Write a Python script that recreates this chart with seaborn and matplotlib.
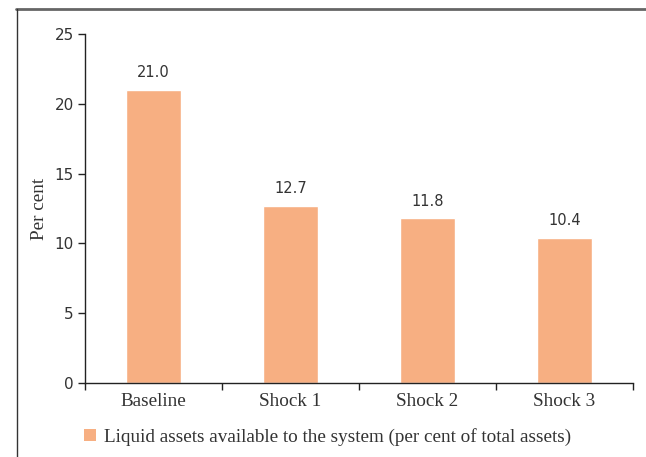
import matplotlib
matplotlib.use("Agg")
import matplotlib.pyplot as plt
from matplotlib.lines import Line2D
from matplotlib.patches import Patch
import seaborn as sns
import pandas as pd

categories = ["Baseline", "Shock 1", "Shock 2", "Shock 3"]
values = [21.0, 12.7, 11.8, 10.4]
y_ticks = [0, 5, 10, 15, 20, 25]
legend_label = "Liquid assets available to the system (per cent of total assets)"

bar_color = "#F7AF82"
text_color = "#333333"
serif = "Liberation Serif"

sns.set_theme(style="white")
plt.rcParams["font.family"] = ["DejaVu Sans"]

df = pd.DataFrame({"category": categories, "value": values})

fig = plt.figure(figsize=(6.46, 4.57), dpi=100)
ax = fig.add_axes([85 / 646, 1 - 383 / 457, (633 - 85) / 646, (383 - 34) / 457])

sns.barplot(data=df, x="category", y="value", color=bar_color, width=0.4,
            saturation=1, ax=ax)

ax.set_xlim(-0.5, 3.5)
ax.set_ylim(0, 25)
ax.set_yticks(y_ticks)
ax.tick_params(axis="y", length=5, width=1, colors="#222222", labelsize=11,
               pad=3, left=True)
for t in ax.get_yticklabels():
    t.set_color(text_color)

# Category labels without tick marks; ticks drawn at category boundaries
ax.set_xticks(range(len(categories)))
ax.set_xticklabels(categories, fontfamily=serif, fontsize=13.8, color=text_color)
ax.tick_params(axis="x", which="major", length=0, pad=7)
ax.set_xticks([i - 0.5 for i in range(len(categories) + 1)], minor=True)
ax.tick_params(axis="x", which="minor", length=5, width=1, color="#222222",
               bottom=True)

ax.set_xlabel("")
ax.set_ylabel("Per cent", fontfamily=serif, fontsize=13.8, color=text_color,
              labelpad=5)

for side in ["top", "right"]:
    ax.spines[side].set_visible(False)
for side in ["left", "bottom"]:
    ax.spines[side].set_color("#222222")
    ax.spines[side].set_linewidth(1)

for i, v in enumerate(values):
    ax.annotate(f"{v:.1f}", (i, v), xytext=(0, 7), textcoords="offset points",
                ha="center", va="bottom", fontsize=10.5, color=text_color)

handle = Patch(facecolor=bar_color, edgecolor="none")
fig.legend([handle], [legend_label], loc="center left",
           bbox_to_anchor=(67 / 646, 1 - 437 / 457), frameon=False,
           handlelength=0.6, handleheight=0.6, handletextpad=0.45,
           prop={"family": serif, "size": 13.8}, labelcolor=text_color)

# Panel frame along the top and left edges
fig.add_artist(Line2D([16 / 646, 1], [1 - 8.5 / 457, 1 - 8.5 / 457],
                      transform=fig.transFigure, color="#666666", linewidth=2))
fig.add_artist(Line2D([16.5 / 646, 16.5 / 646], [0, 1 - 8.5 / 457],
                      transform=fig.transFigure, color="#333333", linewidth=1))

fig.savefig("out.png", dpi=100)
